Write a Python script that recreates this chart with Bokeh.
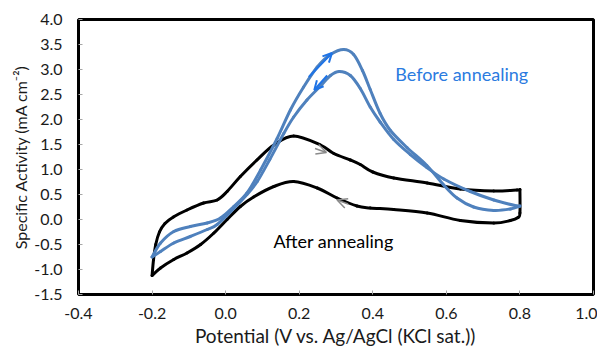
from bokeh.plotting import figure
from bokeh.models import FixedTicker, PrintfTickFormatter, Range1d, Arrow, OpenHead, Label, ColumnDataSource
from bokeh.embed import file_html
from bokeh.resources import INLINE

# After annealing (black) - forward sweep (-0.2 -> 0.8)
after_fwd_x = [-0.2, -0.196, -0.19, -0.18, -0.165, -0.142, -0.105, -0.06, -0.023, 0.004, 0.04,
               0.085, 0.131, 0.185, 0.258, 0.294, 0.339, 0.366, 0.40, 0.457, 0.548, 0.638, 0.729, 0.792, 0.8]
after_fwd_y = [-1.12, -0.80, -0.50, -0.25, -0.08, 0.05, 0.19, 0.33, 0.39, 0.56, 0.86,
               1.19, 1.49, 1.67, 1.49, 1.32, 1.19, 1.10, 0.95, 0.83, 0.73, 0.61, 0.57, 0.59, 0.60]
# After annealing (black) - reverse sweep (0.8 -> -0.2)
after_rev_x = [0.8, 0.8, 0.795, 0.774, 0.729, 0.638, 0.548, 0.457, 0.393, 0.357, 0.303, 0.249,
               0.185, 0.131, 0.076, 0.04, 0.004, -0.032, -0.068, -0.105, -0.141, -0.177, -0.2]
after_rev_y = [0.60, 0.13, 0.04, -0.02, -0.07, -0.02, 0.13, 0.20, 0.23, 0.27, 0.43, 0.63,
               0.76, 0.66, 0.45, 0.26, 0.0, -0.27, -0.50, -0.67, -0.80, -0.97, -1.12]

# Before annealing (blue) - forward sweep
before_fwd_x = [-0.2, -0.177, -0.141, -0.096, -0.05, -0.014, 0.022, 0.058, 0.095, 0.14, 0.176,
                0.212, 0.249, 0.285, 0.321, 0.348, 0.372, 0.393, 0.42, 0.448, 0.493, 0.547,
                0.593, 0.629, 0.674, 0.729, 0.774, 0.8]
before_fwd_y = [-0.75, -0.47, -0.24, -0.14, -0.07, 0.03, 0.26, 0.53, 0.99, 1.62, 2.19,
                2.65, 3.05, 3.30, 3.40, 3.30, 2.98, 2.60, 2.12, 1.78, 1.44, 1.08,
                0.69, 0.43, 0.25, 0.18, 0.21, 0.27]
# Before annealing (blue) - reverse sweep
before_rev_x = [0.8, 0.792, 0.729, 0.665, 0.593, 0.547, 0.502, 0.457, 0.42, 0.393, 0.366, 0.339,
                0.309, 0.285, 0.258, 0.221, 0.185, 0.158, 0.12, 0.086, 0.058, 0.022, -0.023,
                -0.05, -0.096, -0.141, -0.177, -0.2]
before_rev_y = [0.27, 0.27, 0.39, 0.56, 0.81, 1.04, 1.30, 1.60, 1.95, 2.25, 2.62, 2.88,
                2.96, 2.88, 2.67, 2.39, 2.05, 1.72, 1.20, 0.76, 0.50, 0.22, -0.10,
                -0.20, -0.34, -0.47, -0.64, -0.75]

x_ticks = [-0.4, -0.2, 0.0, 0.2, 0.4, 0.6, 0.8, 1.0]
y_ticks = [-1.5, -1.0, -0.5, 0.0, 0.5, 1.0, 1.5, 2.0, 2.5, 3.0, 3.5, 4.0]

# arrows: (x_start, y_start, x_end, y_end)
blue_arrows = [(0.226, 2.85, 0.289, 3.33), (0.276, 2.88, 0.241, 2.59)]
gray_arrows = [(0.243, 1.42, 0.274, 1.34), (0.333, 0.31, 0.303, 0.39)]

FONT = "Lato"
BLACK = "#000000"
BLUE = "#4f81bd"
BRIGHT_BLUE = "#1f74e6"


def smooth_segments(xs, ys):
    """Catmull-Rom -> cubic Bezier segments through the read points (like Excel smoothed lines)."""
    n = len(xs)
    d = dict(x0=[], y0=[], x1=[], y1=[], cx0=[], cy0=[], cx1=[], cy1=[])
    for i in range(n - 1):
        a = max(i - 1, 0)
        b = min(i + 2, n - 1)
        d["x0"].append(xs[i]); d["y0"].append(ys[i])
        d["x1"].append(xs[i + 1]); d["y1"].append(ys[i + 1])
        d["cx0"].append(xs[i] + (xs[i + 1] - xs[a]) / 6.0)
        d["cy0"].append(ys[i] + (ys[i + 1] - ys[a]) / 6.0)
        d["cx1"].append(xs[i + 1] - (xs[b] - xs[i]) / 6.0)
        d["cy1"].append(ys[i + 1] - (ys[b] - ys[i]) / 6.0)
    return ColumnDataSource(d)


p = figure(width=597, height=350, output_backend="svg", toolbar_location=None,
           x_range=Range1d(-0.4, 1.0), y_range=Range1d(-1.5, 4.0),
           min_border_left=78, min_border_right=4, min_border_top=19, min_border_bottom=56)
p.grid.visible = False
p.background_fill_color = "white"
p.border_fill_color = "white"
p.outline_line_color = "black"
p.outline_line_width = 3

for xs, ys, col in ((after_fwd_x, after_fwd_y, BLACK), (after_rev_x, after_rev_y, BLACK),
                    (before_fwd_x, before_fwd_y, BLUE), (before_rev_x, before_rev_y, BLUE)):
    p.bezier(x0="x0", y0="y0", x1="x1", y1="y1", cx0="cx0", cy0="cy0", cx1="cx1", cy1="cy1",
             source=smooth_segments(xs, ys), line_color=col, line_width=3, line_cap="round")

for (x0, y0, x1, y1) in blue_arrows:
    p.add_layout(Arrow(x_start=x0, y_start=y0, x_end=x1, y_end=y1, line_color=BRIGHT_BLUE,
                       line_width=2, end=OpenHead(size=9, line_color=BRIGHT_BLUE, line_width=2)))
for (x0, y0, x1, y1) in gray_arrows:
    p.add_layout(Arrow(x_start=x0, y_start=y0, x_end=x1, y_end=y1, line_color="#8a8a8a",
                       line_width=1.5, end=OpenHead(size=10, line_color="#8a8a8a", line_width=1.5)))

p.add_layout(Label(x=0.461, y=2.92, text="Before annealing", text_font=FONT, text_font_size="18px",
                   text_color="#2b7be0", text_baseline="middle", text_align="left"))
p.add_layout(Label(x=0.13, y=-0.42, text="After annealing", text_font=FONT, text_font_size="18px",
                   text_color="black", text_baseline="middle", text_align="left"))

for ax, ticks in ((p.xaxis, x_ticks), (p.yaxis, y_ticks)):
    ax.ticker = FixedTicker(ticks=ticks)
    ax.formatter = PrintfTickFormatter(format="%.1f")
    ax.axis_line_color = None
    ax.major_tick_in = 4
    ax.major_tick_out = 0
    ax.major_tick_line_color = "#a6a6a6"
    ax.minor_tick_line_color = None
    ax.major_label_text_font = FONT
    ax.major_label_text_font_size = "16px"
    ax.major_label_text_color = "#1a1a1a"
    ax.axis_label_text_font = FONT
    ax.axis_label_text_font_style = "normal"
    ax.axis_label_text_color = "#1a1a1a"

p.xaxis.axis_label = "Potential (V vs. Ag/AgCl (KCl sat.))"
p.xaxis.axis_label_text_font_size = "19px"
p.xaxis.major_label_standoff = 13
p.xaxis.axis_label_standoff = 2
p.yaxis.axis_label = "Specific Activity (mA cm\u207b\u00b2)"
p.yaxis.axis_label_text_font_size = "16px"
p.yaxis.major_label_standoff = 16
p.yaxis.axis_label_standoff = 1

open("out.html", "w").write(file_html(p, INLINE))
